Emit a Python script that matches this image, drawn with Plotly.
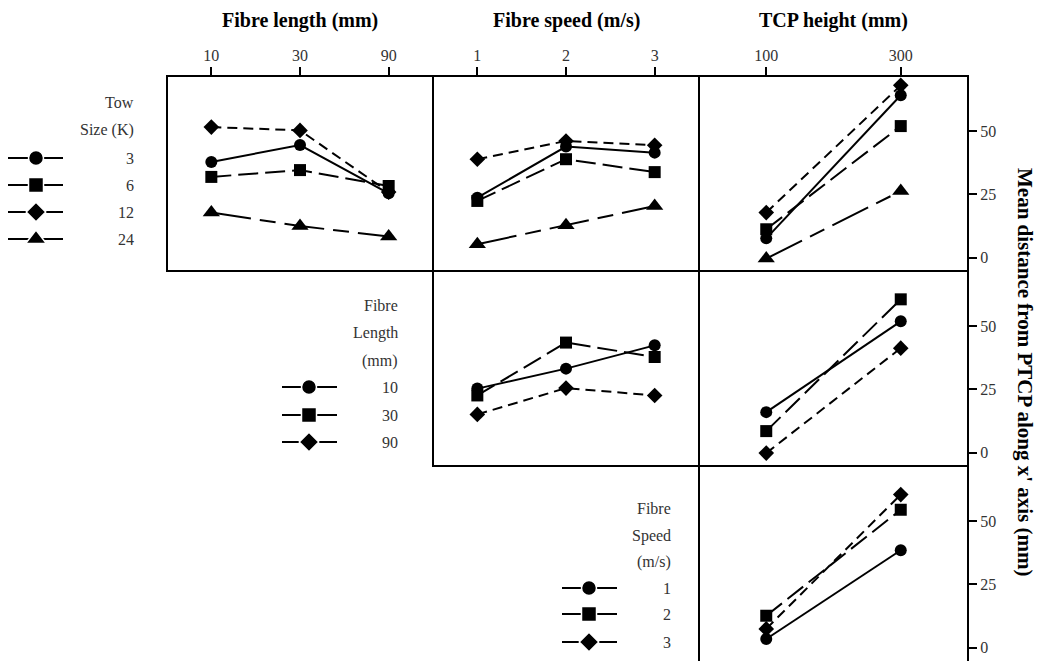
import plotly.graph_objects as go

W, H = 1047, 661

# Factor levels on the three x axes
fibre_length = ["10", "30", "90"]
fibre_speed = ["1", "2", "3"]
tcp_height = ["100", "300"]

# Legend levels (trace order)
tow_sizes = ["3", "6", "12", "24"]
length_levels = ["10", "30", "90"]
speed_levels = ["1", "2", "3"]

# Mean distance from PTCP along x' axis (mm), one row per legend level
tow_by_length = [
    [37.8, 44.5, 25.4],
    [31.9, 34.6, 28.3],
    [51.6, 50.3, 25.9],
    [17.8, 12.5, 8.3],
]
tow_by_speed = [
    [23.7, 43.9, 41.5],
    [22.4, 38.9, 33.8],
    [38.9, 46.1, 44.4],
    [5.3, 12.8, 20.4],
]
tow_by_height = [
    [7.6, 64.2],
    [11.2, 52.0],
    [17.8, 68.1],
    [-0.4, 26.3],
]
length_by_speed = [
    [25.3, 33.2, 42.4],
    [22.6, 43.5, 37.8],
    [15.1, 25.5, 22.6],
]
length_by_height = [
    [16.0, 51.9],
    [8.5, 60.6],
    [-0.2, 41.3],
]
speed_by_height = [
    [3.4, 38.5],
    [12.6, 54.5],
    [7.4, 60.5],
]

FONT = "Liberation Serif"
SERIES_STYLE = [
    dict(symbol="circle", size=12, dash="solid"),
    dict(symbol="square", size=12, dash="20px,7px"),
    dict(symbol="diamond", size=12, dash="10px,6px"),
    dict(symbol="triangle-up", size=15, dash="40px,9px,16px,9px"),
]

# column / row extents in pixels
COLS = [(167, 433), (433, 699), (699, 968)]
ROWS = [(76, 271), (271, 466), (466, 661)]
YRANGE = [-5.3, 71.8]

panels = [
    (0, 0, fibre_length, tow_by_length),
    (0, 1, fibre_speed, tow_by_speed),
    (0, 2, tcp_height, tow_by_height),
    (1, 1, fibre_speed, length_by_speed),
    (1, 2, tcp_height, length_by_height),
    (2, 2, tcp_height, speed_by_height),
]

fig = go.Figure()
layout = {}
shapes = []

for i, (r, c, cats, series) in enumerate(panels, start=1):
    xs = "" if i == 1 else str(i)
    for k, vals in enumerate(series):
        st = SERIES_STYLE[k]
        fig.add_trace(go.Scatter(
            x=cats, y=vals, xaxis="x" + xs, yaxis="y" + xs,
            mode="lines+markers", showlegend=False, hoverinfo="skip",
            line=dict(color="black", width=2, dash=st["dash"]),
            marker=dict(symbol=st["symbol"], size=st["size"], color="black"),
            cliponaxis=False,
        ))
    x0, x1 = COLS[c]
    y0, y1 = ROWS[r]
    # panel frame; the lowest panel runs off the bottom edge of the page
    frame_bottom = 1 - y1 / H if y1 < H else -0.01
    shapes.append(dict(
        type="rect", xref="paper", yref="paper",
        x0=x0 / W, x1=x1 / W, y0=frame_bottom, y1=1 - y0 / H,
        line=dict(color="black", width=2), fillcolor="rgba(0,0,0,0)",
        layer="above",
    ))
    xa = dict(
        domain=[x0 / W, x1 / W], anchor="y" + xs, type="category",
        range=[-0.5, len(cats) - 0.5], showline=False,
        showgrid=False, zeroline=False, automargin=False, fixedrange=True,
    )
    if r == 0:
        xa.update(side="top", ticks="outside", ticklen=8, tickwidth=2,
                  tickcolor="black", showticklabels=True,
                  tickfont=dict(family=FONT, size=16, color="#333"))
    else:
        xa.update(ticks="", showticklabels=False)
    ya = dict(
        domain=[1 - y1 / H, 1 - y0 / H], anchor="x" + xs, range=YRANGE,
        showline=False, showgrid=False, zeroline=False, automargin=False,
        fixedrange=True,
    )
    if c == 2:
        ya.update(side="right", ticks="outside", ticklen=8, tickwidth=2,
                  tickcolor="black", tickvals=[0, 25, 50], showticklabels=True,
                  tickfont=dict(family=FONT, size=16, color="#333"))
    else:
        ya.update(ticks="", showticklabels=False)
    layout["xaxis" + xs] = xa
    layout["yaxis" + xs] = ya

# Overlay axes in pixel units for legends and headings
layout["xaxis7"] = dict(domain=[0, 1], range=[0, W], visible=False,
                        anchor="y7", fixedrange=True)
layout["yaxis7"] = dict(domain=[0, 1], range=[H, 0], visible=False,
                        anchor="x7", fixedrange=True)

annotations = []


def text(x, y, s, size=16, anchor="right", color="#333", angle=0):
    annotations.append(dict(
        x=x, y=y, xref="x7", yref="y7", text=s, showarrow=False,
        xanchor=anchor, yanchor="middle", textangle=angle,
        font=dict(family=FONT, size=size, color=color),
    ))


def legend_block(title_lines, title_ys, labels, item_ys, key_x0, key_x1,
                 key_xm, label_right):
    for line, yy in zip(title_lines, title_ys):
        text(label_right, yy, line)
    for k, (lab, yy) in enumerate(zip(labels, item_ys)):
        st = SERIES_STYLE[k]
        fig.add_trace(go.Scatter(
            x=[key_x0, key_x1], y=[yy, yy], xaxis="x7", yaxis="y7",
            mode="lines", showlegend=False, hoverinfo="skip", cliponaxis=False,
            line=dict(color="black", width=2),
        ))
        fig.add_trace(go.Scatter(
            x=[key_xm], y=[yy], xaxis="x7", yaxis="y7",
            mode="markers", showlegend=False, hoverinfo="skip", cliponaxis=False,
            marker=dict(symbol=st["symbol"], size=st["size"] + 3, color="black",
                        line=dict(color="white", width=1.5)),
        ))
        text(label_right, yy, lab)


legend_block(["Tow", "Size (K)"], [102, 130], tow_sizes,
             [158, 185, 212, 239], 8, 63, 36, 136)
legend_block(["Fibre", "Length", "(mm)"], [305, 333, 361], length_levels,
             [387, 415, 442], 282, 337, 309, 400)
legend_block(["Fibre", "Speed", "(m/s)"], [508, 536, 562], speed_levels,
             [588, 614, 642], 562, 617, 589, 673)

# Factor headings above the columns
for (x0, x1), head in zip(COLS, ["Fibre length (mm)", "Fibre speed (m/s)",
                                 "TCP height (mm)"]):
    text((x0 + x1) / 2, 20, "<b>" + head + "</b>", size=20,
         anchor="center", color="black")

# Shared response label on the right
text(1025, 372, "<b>Mean distance from PTCP along x' axis (mm)</b>", size=21,
     anchor="center", color="black", angle=90)

fig.update_layout(
    width=W, height=H,
    margin=dict(l=0, r=0, t=0, b=0),
    paper_bgcolor="white",
    plot_bgcolor="rgba(0,0,0,0)",
    font=dict(family=FONT, color="black"),
    showlegend=False,
    annotations=annotations,
    shapes=shapes,
    **layout,
)

fig.write_html("out.html")
